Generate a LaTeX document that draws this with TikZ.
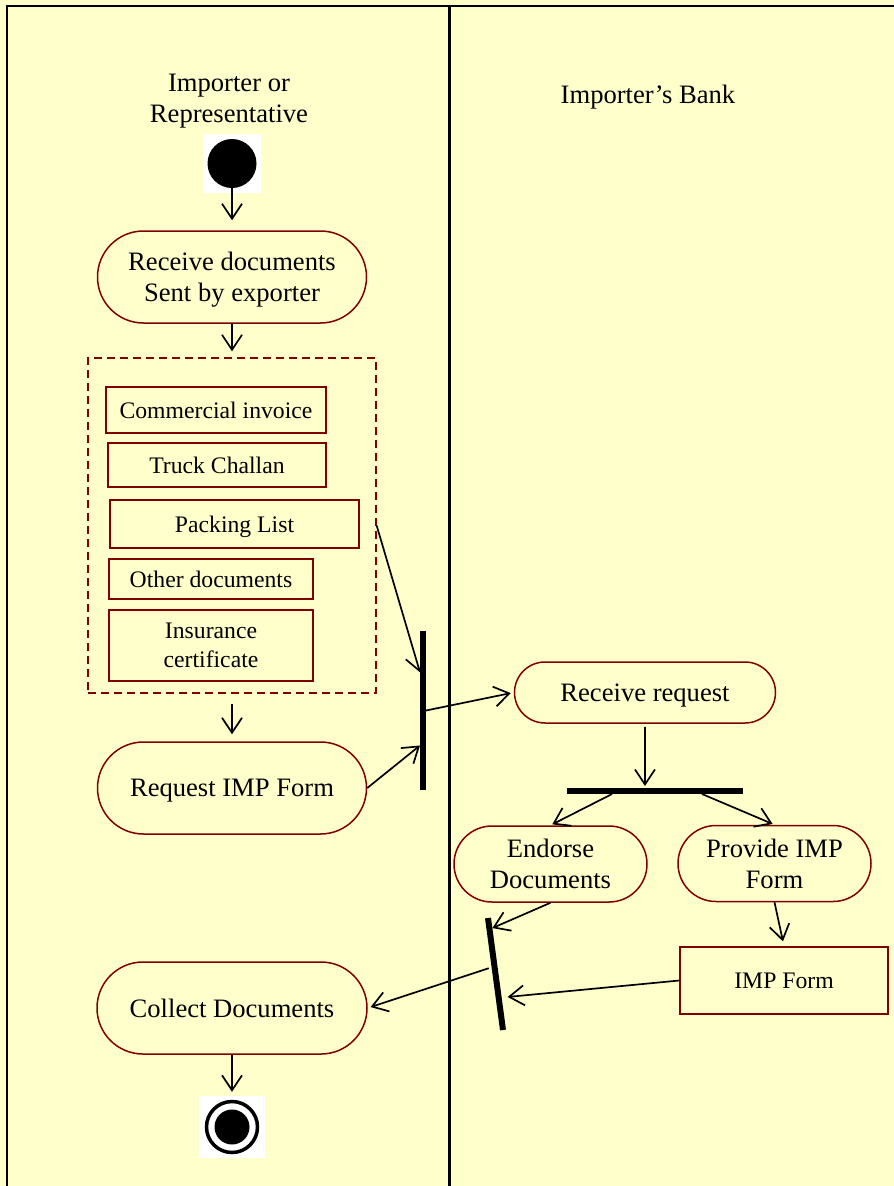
\documentclass[tikz,border=0pt]{standalone}
\usepackage{fontspec}
\setmainfont{Liberation Serif}
\usepackage{tikz}
\usetikzlibrary{arrows.meta,shapes.misc,calc}

\definecolor{bgyellow}{RGB}{255,255,204}
\definecolor{nodered}{RGB}{128,0,0}
\newcommand\bigtxt{\fontsize{26.6}{31}\selectfont}
\newcommand\smalltxt{\fontsize{23.7}{29}\selectfont}

\tikzset{
  act/.style={rounded rectangle, draw=nodered, line width=1.5pt, fill=bgyellow,
    align=center, font=\bigtxt, inner sep=0pt, text depth=0pt},
  doc/.style={rectangle, draw=nodered, line width=1.5pt, align=center,
    font=\smalltxt, inner sep=0pt, text depth=0pt},
  group/.style={rectangle, draw=nodered, line width=1.3pt,
    dash pattern=on 8pt off 5pt, inner sep=0pt},
  imgbox/.style={rectangle, fill=white, inner sep=0pt},
  flow/.style={-{Straight Barb[length=15pt,width=20pt]}, line width=1.7pt},
  barline/.style={line width=6pt},
}

\begin{document}
\begin{tikzpicture}[x=1pt,y=-1pt]
  \useasboundingbox (0,0) rectangle (894,1186);
  \fill[bgyellow] (0,0) rectangle (894,1186);
  % swimlanes
  \draw[line width=2pt] (7,1186) -- (7,6) -- (894,6);
  \draw[line width=3pt] (449.5,6) -- (449.5,1186);
  \node[font=\bigtxt, align=center] (lane1) at (229,101) {Importer or\\Representative};
  \node[font=\bigtxt] (lane2) at (648,97) {Importer’s Bank};

  % start
  \node[imgbox, minimum width=58pt, minimum height=59pt] (start) at (232,163.5) {};
  \fill (start.center) circle (24.5pt);

  % importer side
  \node[act, minimum width=269pt, minimum height=92pt] (recvdoc) at (232,277) {Receive documents\\Sent by exporter};
  \node[group, minimum width=288pt, minimum height=335pt] (docs) at (232,525.5) {};
  \node[doc, minimum width=220pt, minimum height=46pt] (comm) at (216,410) {Commercial invoice};
  \node[doc, minimum width=218pt, minimum height=44pt] (truck) at (217,465) {Truck Challan};
  \node[doc, minimum width=249pt, minimum height=48pt] (pack) at (234.5,524) {Packing List};
  \node[doc, minimum width=204pt, minimum height=40pt] (other) at (211,579) {Other documents};
  \node[doc, minimum width=204pt, minimum height=71pt] (insur) at (211,645.5) {Insurance\\certificate};
  \node[act, minimum width=269pt, minimum height=92pt] (reqimp) at (232,788) {Request IMP Form};
  \node[act, minimum width=270pt, minimum height=92pt] (collect) at (232,1008) {Collect Documents};

  % end
  \node[imgbox, minimum width=66pt, minimum height=62pt] (end) at (232,1127) {};
  \draw[line width=3.5pt] (end.center) circle (25.5pt);
  \fill (end.center) circle (17.5pt);

  % bank side
  \node[act, minimum width=261pt, minimum height=61pt] (recvreq) at (645,692.5) {Receive request};
  \node[act, minimum width=193pt, minimum height=76pt] (endorse) at (550.5,864) {Endorse\\Documents};
  \node[act, minimum width=193pt, minimum height=76pt] (provide) at (774.5,863.5) {Provide IMP\\Form};
  \node[doc, minimum width=208pt, minimum height=67pt] (impform) at (784,980.5) {IMP Form};

  % bars
  \coordinate (j1t) at (423,631);
  \coordinate (j1b) at (423,790);
  \coordinate (f1l) at (567,791);
  \coordinate (f1r) at (743,791);
  \coordinate (j2t) at (488,918);
  \coordinate (j2b) at (503,1030);

  % flows
  \draw[flow, shorten <=24pt, shorten >=10pt] (start.center) -- (recvdoc.north);
  \draw[flow, shorten >=6pt] (recvdoc.south) -- (docs.north);
  \draw[flow, shorten <=10pt, shorten >=7pt] (docs.south) -- (reqimp.north);
  \draw[flow] (docs.east) -- ($(j1t)!0.26!(j1b)+(-3,0)$);
  \draw[flow] (reqimp.east) -- ($(j1t)!0.72!(j1b)+(-3,0)$);
  \draw[flow, shorten >=3pt] ($(j1t)!0.5!(j1b)+(3,0)$) -- (recvreq.west);
  \draw[flow, shorten <=3pt, shorten >=2pt] (recvreq.south) -- ($(f1l)!0.443!(f1r)+(0,-3)$);
  \draw[flow, shorten >=2pt] ($(f1l)!0.256!(f1r)+(0,3)$) -- (endorse.north);
  \draw[flow, shorten >=2pt] ($(f1l)!0.767!(f1r)+(0,3)$) -- (provide.north);
  \draw[flow] (endorse.south) -- ($(j2t)!0.09!(j2b)+(3,0)$);
  \draw[flow, shorten >=5pt] (provide.south) -- (impform.north);
  \draw[flow, shorten >=6pt] (impform.west) -- ($(j2t)!0.71!(j2b)+(3,0)$);
  \draw[flow, shorten <=3pt, shorten >=3pt] ($(j2t)!0.44!(j2b)+(-3,0)$) -- (collect.east);
  \draw[flow, shorten >=4pt] (collect.south) -- (end.north);

  \draw[barline] (j1t) -- (j1b);
  \draw[barline] (f1l) -- (f1r);
  \draw[barline] (j2t) -- (j2b);
\end{tikzpicture}
\end{document}
